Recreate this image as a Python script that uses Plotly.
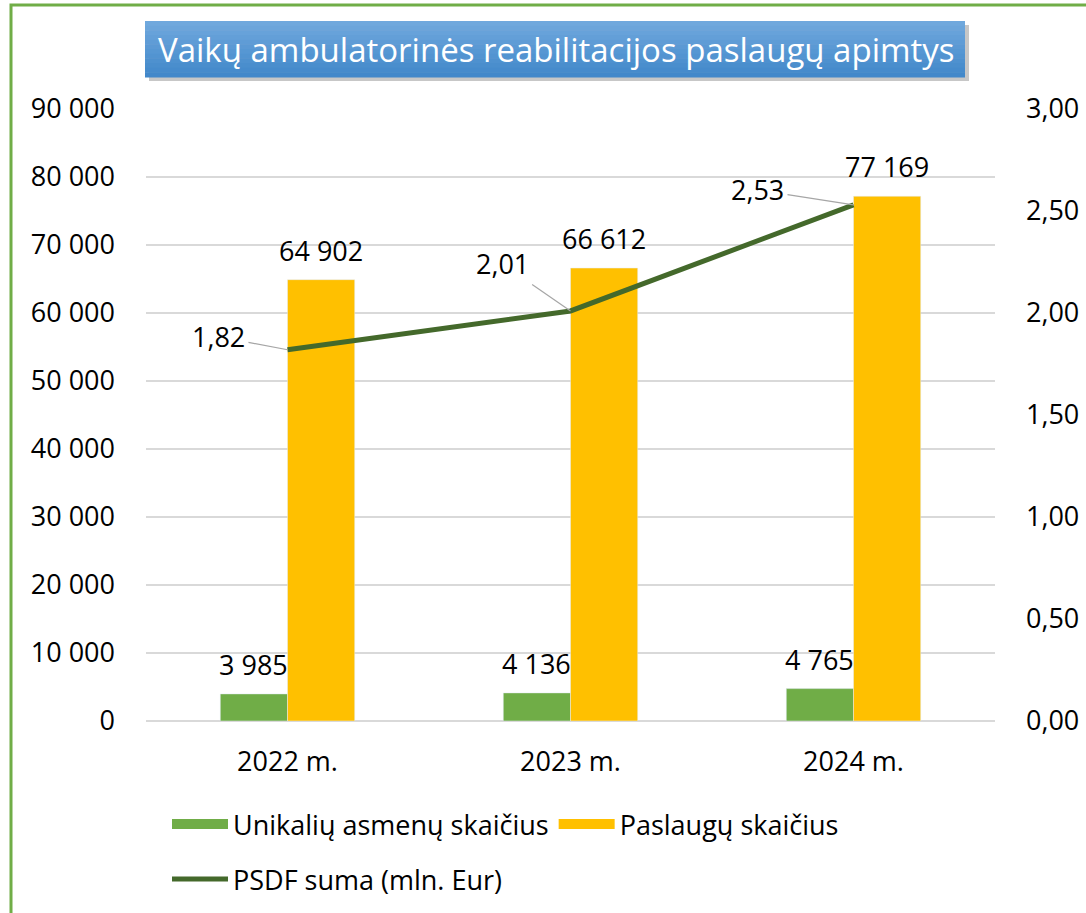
import plotly.graph_objects as go

categories = ["2022 m.", "2023 m.", "2024 m."]
unikaliu = [3985, 4136, 4765]
paslaugu = [64902, 66612, 77169]
psdf = [1.82, 2.01, 2.53]
psdf_labels = ["1,82", "2,01", "2,53"]
label_offsets = [(-69, -13), (-68, -47), (-96, -15)]

FONT = "Open Sans"
FS = 27
W, H = 1086, 913
ML, MR, MT, MB = 146, 91, 109, 192
PW = W - ML - MR
PH = H - MT - MB
BARGAP = 0.525
GREEN = "#70ad47"
YELLOW = "#ffc000"
DARK = "#44692b"

def px(x):
    return (x - ML) / PW

def py(y):
    return (H - MB - y) / PH

def fmt(v):
    return f"{v:,}".replace(",", " ")

fig = go.Figure()
fig.add_trace(go.Bar(x=categories, y=unikaliu, name="Unikalių asmenų skaičius",
                     marker_color=GREEN, showlegend=False))
fig.add_trace(go.Bar(x=categories, y=paslaugu, name="Paslaugų skaičius",
                     marker_color=YELLOW, showlegend=False))
fig.add_trace(go.Scatter(
    x=categories, y=psdf, name="PSDF suma (mln. Eur)", yaxis="y2",
    mode="lines", line=dict(color=DARK, width=5), cliponaxis=False,
    legend="legend2",
))
# legend entries for the bar series (wide rectangular keys)
for nm, col in (("Unikalių asmenų skaičius", GREEN), ("Paslaugų skaičius", YELLOW)):
    fig.add_trace(go.Scatter(x=[None], y=[None], name=nm, mode="lines",
                             line=dict(color=col, width=18), legend="legend",
                             hoverinfo="skip"))

annotations = []
bar_w = PW / len(categories) * (1 - BARGAP) / 2
for series, sign in ((unikaliu, -1), (paslaugu, 1)):
    for c, v in zip(categories, series):
        annotations.append(dict(
            x=c, y=v, text=fmt(v), showarrow=False, xanchor="center", yanchor="bottom",
            xshift=sign * bar_w / 2, yshift=9, font=dict(size=FS, color="#000000"),
        ))
for c, v, t, (ax, ay) in zip(categories, psdf, psdf_labels, label_offsets):
    annotations.append(dict(
        x=c, y=v, yref="y2", text=t, showarrow=True, arrowhead=0, arrowwidth=1.2,
        arrowcolor="#a6a6a6", ax=ax, ay=ay, font=dict(size=FS, color="#000000"),
        standoff=0, startstandoff=2,
    ))

shapes = []
shapes.append(dict(type="rect", xref="paper", yref="paper",
                   x0=px(149), x1=px(969), y0=py(81), y1=py(25),
                   fillcolor="rgba(0,0,0,0.22)", line=dict(width=0), layer="above"))
top = (111, 168, 221)
bot = (66, 136, 202)
n = 12
y_top, y_bot = 21, 77
for i in range(n):
    f = i / (n - 1)
    col = tuple(round(top[k] + (bot[k] - top[k]) * f) for k in range(3))
    y0 = y_top + (y_bot - y_top) * i / n
    y1 = y_top + (y_bot - y_top) * (i + 1) / n
    shapes.append(dict(type="rect", xref="paper", yref="paper",
                       x0=px(145), x1=px(965), y0=py(y1 + 0.5), y1=py(y0),
                       fillcolor="rgb(%d,%d,%d)" % col, line=dict(width=0), layer="above"))
shapes.append(dict(type="rect", xref="paper", yref="paper",
                   x0=px(11), x1=px(1100), y0=py(940), y1=py(5),
                   line=dict(color=GREEN, width=3), layer="above"))

annotations.append(dict(
    xref="paper", yref="paper", x=px(556), y=py(50), showarrow=False,
    text="Vaikų ambulatorinės reabilitacijos paslaugų apimtys",
    font=dict(size=33, color="#ffffff", family=FONT), xanchor="center", yanchor="middle",
))

fig.update_layout(
    width=W, height=H,
    margin=dict(l=ML, r=MR, t=MT, b=MB, autoexpand=False),
    paper_bgcolor="#ffffff", plot_bgcolor="#ffffff",
    font=dict(family=FONT, size=FS, color="#000000"),
    separators=", ",
    barmode="group", bargap=BARGAP, bargroupgap=0,
    showlegend=True,
    legend=dict(orientation="h", x=px(167), y=py(800), xanchor="left", yanchor="top",
                font=dict(size=FS), itemwidth=56, bgcolor="rgba(0,0,0,0)"),
    legend2=dict(orientation="h", x=px(167), y=py(855), xanchor="left", yanchor="top",
                 font=dict(size=FS), itemwidth=56, bgcolor="rgba(0,0,0,0)"),
    xaxis=dict(showgrid=False, showline=False, ticks="", ticklabelstandoff=22,
               tickfont=dict(size=FS)),
    yaxis=dict(range=[0, 90000], dtick=10000, tickformat=",d", showgrid=True,
               gridcolor="#d9d9d9", gridwidth=1.5, zeroline=True, zerolinecolor="#d9d9d9",
               zerolinewidth=1.5, showline=False, ticks="", ticklabelstandoff=30,
               tickfont=dict(size=FS)),
    yaxis2=dict(range=[0, 3], dtick=0.5, tickformat=".2f", overlaying="y", side="right",
                showgrid=False, zeroline=False, showline=False, ticks="",
                ticklabelstandoff=30, tickfont=dict(size=FS)),
    shapes=shapes, annotations=annotations,
)

fig.write_html("out.html", config={"displayModeBar": False},
               post_script="document.body.style.margin='0px';")
